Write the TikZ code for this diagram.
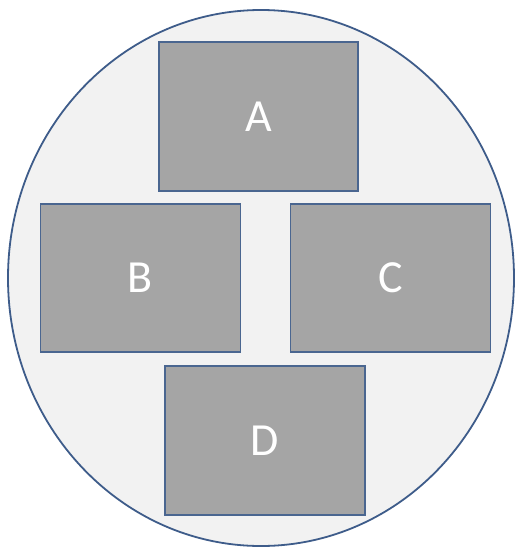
\documentclass[tikz,border=0pt]{standalone}
\usepackage{fontspec}
\setmainfont{Carlito}
\usetikzlibrary{shapes.geometric}
\definecolor{boxfill}{HTML}{A5A5A5}
\definecolor{boxline}{HTML}{4A6690}
\definecolor{ellfill}{HTML}{F2F2F2}
\definecolor{ellline}{HTML}{3E5C8A}
\tikzset{
  panel/.style={draw=boxline, line width=1.6pt, fill=boxfill, text=white,
    font=\fontsize{46}{50}\selectfont, inner sep=0pt, anchor=center},
}
\begin{document}
\begin{tikzpicture}[x=1pt,y=-1pt]
\useasboundingbox (0,0) rectangle (515,549);
\node[draw=ellline, line width=1.8pt, fill=ellfill, ellipse, minimum width=506pt, minimum height=536pt, inner sep=0pt] (circ) at (261,278) {};
\node[panel, minimum width=199pt, minimum height=149pt] (A) at (258.5,116.5) {A};
\node[panel, minimum width=200pt, minimum height=148pt] (B) at (140.5,278) {B};
\node[panel, minimum width=200pt, minimum height=148pt] (C) at (390.5,278) {C};
\node[panel, minimum width=200pt, minimum height=149pt] (D) at (265,440.5) {D};
\end{tikzpicture}
\end{document}
